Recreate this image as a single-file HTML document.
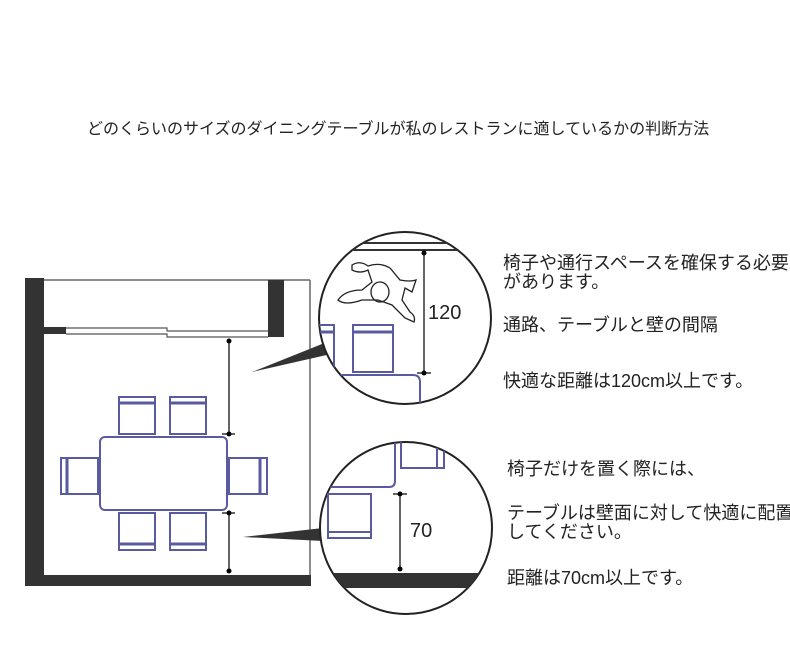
<!DOCTYPE html>
<html><head><meta charset="utf-8"><style>
html,body{margin:0;padding:0;background:#fff;}
body{width:790px;height:666px;position:relative;overflow:hidden;font-family:"Liberation Sans","Noto Sans CJK JP",sans-serif;color:#222;}
.t{position:absolute;white-space:nowrap;font-size:18px;line-height:19px;}
</style></head><body>
<div class="t" style="left:87px;top:120px;font-size:16px;">どのくらいのサイズのダイニングテーブルが私のレストランに適しているかの判断方法</div>
<svg width="790" height="666" style="position:absolute;left:0;top:0">
<defs>
<clipPath id="c1"><circle cx="405" cy="318" r="86"/></clipPath>
<clipPath id="c2"><circle cx="406" cy="528" r="86"/></clipPath>
<g id="chairT" fill="none" stroke="#5a5aa0" stroke-width="2">
<rect x="0" y="0" width="36" height="37"/><line x1="0" y1="6" x2="36" y2="6" stroke-width="3"/>
</g>
<g id="chairB" fill="none" stroke="#5a5aa0" stroke-width="2">
<rect x="0" y="0" width="36" height="37"/><line x1="0" y1="31" x2="36" y2="31" stroke-width="3"/>
</g>
</defs>
<line x1="44" y1="280" x2="310" y2="280" stroke="#666" stroke-width="1.5"/>
<line x1="310" y1="280" x2="310" y2="576" stroke="#666" stroke-width="1.5"/>
<rect x="25" y="278" width="19" height="308" fill="#333"/>
<rect x="25" y="575" width="286" height="11" fill="#333"/>
<rect x="268" y="280" width="16" height="57" fill="#333"/>
<rect x="44" y="327" width="22" height="7" fill="#333"/>
<path d="M66 328 H167 V331 H268 M66 334 H167 V337 H268" fill="none" stroke="#555" stroke-width="1.2"/>
<g stroke="#000" stroke-width="1.2">
<line x1="229" y1="341" x2="229" y2="434"/><line x1="222" y1="434" x2="235" y2="434"/>
<line x1="229" y1="513" x2="229" y2="571"/><line x1="222" y1="513" x2="235" y2="513"/>
</g>
<g fill="#000"><circle cx="229" cy="341" r="2.5"/><circle cx="229" cy="434" r="2.5"/><circle cx="229" cy="513" r="2.5"/><circle cx="229" cy="571" r="2.5"/></g>
<rect x="100" y="437" width="127" height="73" rx="5" fill="none" stroke="#5a5aa0" stroke-width="2"/>
<use href="#chairT" x="119" y="397"/><use href="#chairT" x="170" y="397"/>
<use href="#chairB" x="119" y="513"/><use href="#chairB" x="170" y="513"/>
<g fill="none" stroke="#5a5aa0" stroke-width="2">
<rect x="61" y="458" width="37" height="36"/><line x1="67" y1="458" x2="67" y2="494" stroke-width="3"/>
<rect x="229" y="458" width="38" height="36"/><line x1="260" y1="458" x2="260" y2="494" stroke-width="3"/>
</g>
<polygon points="252,372 327,342 331,354" fill="#333"/>
<polygon points="243,537 323,528 323,541" fill="#333"/>
<circle cx="405" cy="318" r="86" fill="#fff" stroke="#222" stroke-width="2"/>
<g clip-path="url(#c1)">
<line x1="310" y1="243" x2="500" y2="243" stroke="#333" stroke-width="2"/>
<line x1="310" y1="250" x2="500" y2="250" stroke="#333" stroke-width="2"/>
<g fill="none" stroke="#5a5aa0" stroke-width="2">
<rect x="300" y="325" width="34" height="47"/><line x1="300" y1="332" x2="334" y2="332" stroke-width="3"/>
<rect x="353" y="325" width="40" height="47"/><line x1="353" y1="332" x2="393" y2="332" stroke-width="3"/>
<path d="M300 375 H413 Q420 375 420 382 V410"/>
</g>
<g fill="none" stroke="#222" stroke-width="1.3">
<path d="M352 265 Q360 260 368 266 Q380 262 390 268 L400 280 Q410 282 416 280 L412 292 L405 288 L402 300 L410 312 Q416 316 414 322 L405 318 L392 305 L378 300 L362 300 Q345 306 338 300 Q345 290 362 290 L372 282 L368 270 Q360 274 352 270Z"/>
<ellipse cx="380" cy="292" rx="9" ry="10"/>
</g>
</g>
<line x1="424" y1="253" x2="424" y2="373" stroke="#000" stroke-width="1.2"/>
<line x1="417" y1="373" x2="431" y2="373" stroke="#000" stroke-width="1.2"/>
<circle cx="424" cy="253" r="2.5"/><circle cx="424" cy="373" r="2.5"/>
<text x="428" y="319" font-family="Liberation Sans, sans-serif" font-size="20" fill="#222">120</text>
<circle cx="406" cy="528" r="86" fill="#fff" stroke="#222" stroke-width="2"/>
<g clip-path="url(#c2)">
<rect x="310" y="573" width="200" height="15" fill="#333"/>
<g fill="none" stroke="#5a5aa0" stroke-width="2">
<rect x="401" y="430" width="43" height="38"/><line x1="437" y1="430" x2="437" y2="468"/>
<path d="M300 487 H389 Q395 487 395 481 V430"/>
<rect x="328" y="494" width="43" height="38"/><rect x="328" y="532" width="43" height="6"/>
</g>
</g>
<line x1="400" y1="494" x2="400" y2="569" stroke="#000" stroke-width="1.2"/>
<line x1="393" y1="494" x2="407" y2="494" stroke="#000" stroke-width="1.2"/>
<circle cx="400" cy="494" r="2.5"/><circle cx="400" cy="569" r="2.5"/>
<text x="410" y="537" font-family="Liberation Sans, sans-serif" font-size="20" fill="#222">70</text>
</svg>
<div class="t" style="left:503px;top:254px;">椅子や通行スペースを確保する必要<br>があります。</div>
<div class="t" style="left:503px;top:316px;">通路、テーブルと壁の間隔</div>
<div class="t" style="left:503px;top:372px;">快適な距離は120cm以上です。</div>
<div class="t" style="left:507px;top:460px;">椅子だけを置く際には、</div>
<div class="t" style="left:507px;top:504px;">テーブルは壁面に対して快適に配置<br>してください。</div>
<div class="t" style="left:507px;top:569px;">距離は70cm以上です。</div>
</body></html>
